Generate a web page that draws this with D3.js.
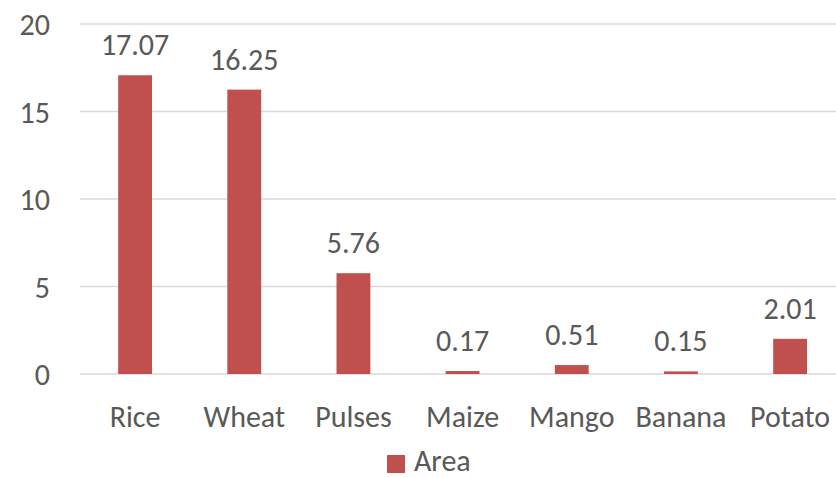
<!DOCTYPE html>
<html>
<head>
<meta charset="utf-8">
<script src="https://cdn.jsdelivr.net/npm/d3@7"></script>
<style>
  body { margin: 0; background: #fff; }
  svg text { font-family: Carlito, Calibri, Lato, sans-serif; fill: #595959; }
</style>
</head>
<body>
<svg></svg>
<script>
// chart data
let crops = ["Rice", "Wheat", "Pulses", "Maize", "Mango", "Banana", "Potato"]
let area = [17.07, 16.25, 5.76, 0.17, 0.51, 0.15, 2.01]
let yTicks = [0, 5, 10, 15, 20]
let seriesName = "Area"

let width = 836
let height = 478
let barColor = "#c0504d"
let fontSize = "30px"

let svg = d3.select("svg")
svg.attr("width", width).attr("height", height)

let xScale = d3.scaleBand()
               .domain(crops)
               .range([80.5, 844.7])
               .paddingInner(0.69)
               .paddingOuter(0.345)

let yScale = d3.scaleLinear()
               .domain([0, 20])
               .range([374, 24])

// gridlines
svg.append("g")
   .selectAll("line")
   .data(yTicks)
   .enter()
   .append("line")
   .attr("x1", 80)
   .attr("x2", width)
   .attr("y1", (d) => yScale(d))
   .attr("y2", (d) => yScale(d))
   .attr("stroke", "#d9d9d9")
   .attr("stroke-width", 1.5)

// y axis labels
let yAxis = d3.axisLeft(yScale).tickValues(yTicks).tickSize(0).tickPadding(0)
let yG = svg.append("g")
            .attr("transform", "translate(50,0)")
            .call(yAxis)
yG.select(".domain").remove()
yG.selectAll("text").style("font-size", fontSize).attr("dy", "0.35em")

// bars
svg.selectAll("rect.bar")
   .data(area)
   .enter()
   .append("rect")
   .attr("class", "bar")
   .attr("x", (d, i) => xScale(crops[i]))
   .attr("width", xScale.bandwidth())
   .attr("y", (d) => yScale(d))
   .attr("height", (d) => yScale(0) - yScale(d))
   .attr("fill", barColor)

// value labels
svg.selectAll("text.value")
   .data(area)
   .enter()
   .append("text")
   .attr("class", "value")
   .attr("x", (d, i) => xScale(crops[i]) + xScale.bandwidth() / 2)
   .attr("y", (d) => yScale(d) - 20)
   .attr("text-anchor", "middle")
   .style("font-size", fontSize)
   .text((d) => d.toFixed(2))

// x axis labels
let xAxis = d3.axisBottom(xScale).tickSize(0).tickPadding(0)
let xG = svg.append("g")
            .attr("transform", "translate(0,426.5)")
            .call(xAxis)
xG.select(".domain").remove()
xG.selectAll("text").style("font-size", fontSize).attr("dy", "0")

// legend
let legend = svg.append("g").attr("transform", "translate(387,455)")
legend.append("rect")
      .attr("width", 18)
      .attr("height", 18)
      .attr("fill", barColor)
legend.append("text")
      .attr("x", 27)
      .attr("y", 16)
      .style("font-size", fontSize)
      .text(seriesName)
</script>
</body>
</html>
